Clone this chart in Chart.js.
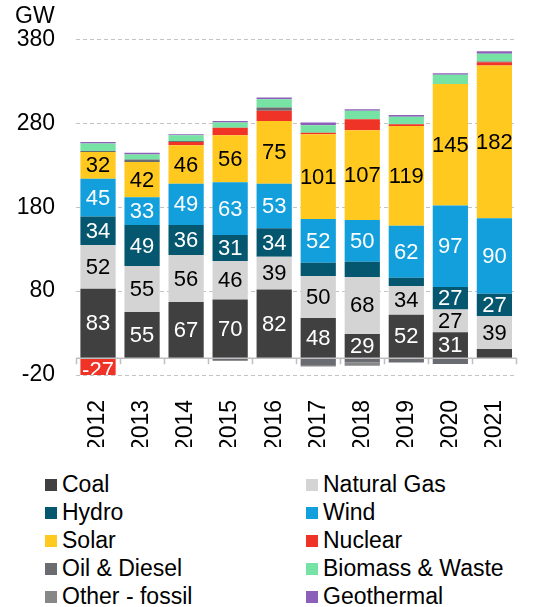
<!DOCTYPE html>
<html>
<head>
<meta charset="utf-8">
<script src="https://cdn.jsdelivr.net/npm/chart.js@4"></script>
<style>
  body { margin: 0; background: #fff; font-family: "Liberation Sans", Arial, sans-serif; }
  #wrap { position: relative; width: 539px; height: 607px; }
  #legend { position: absolute; top: 470px; left: 0; width: 539px; }
  .item { position: absolute; font-size: 23px; line-height: 28px; color: #000; white-space: nowrap; }
  .item span.box { display: inline-block; width: 12px; height: 12px; margin-right: 5px; vertical-align: 1px; }
</style>
</head>
<body>
<div id="wrap">
  <canvas id="myChart" width="539" height="465"></canvas>
  <div id="legend"></div>
</div>
<script>
var years = ["2012", "2013", "2014", "2015", "2016", "2017", "2018", "2019", "2020", "2021"];
var coal = [83, 55, 67, 70, 82, 48, 29, 52, 31, 11];
var naturalGas = [52, 55, 56, 46, 39, 50, 68, 34, 27, 39];
var hydro = [34, 49, 36, 31, 34, 16, 18, 10, 27, 27];
var wind = [45, 33, 49, 63, 53, 52, 50, 62, 97, 90];
var solar = [32, 42, 46, 56, 75, 101, 107, 119, 145, 182];
var nuclear = [-27, -1, 4, 9, 12, 2, 13, 2, -1, 4];
var oilDiesel = [1, 3, 1, -3, 4, -8, -5, -5, -6, 1];
var biomass = [9, 6, 7, 6, 10, 9, 10, 9, 11, 9];
var otherFossil = [0, 0, 0, 0, 0, -2, -4, 0, 0, 0];
var geothermal = [2, 2, 1, 2, 2, 3, 2, 2, 2, 3];
var yTicks = [-20, 80, 180, 280, 380];

var series = [
  { label: "Coal", data: coal, color: "#404040", text: "#fff" },
  { label: "Natural Gas", data: naturalGas, color: "#d4d4d4", text: "#000" },
  { label: "Hydro", data: hydro, color: "#05566f", text: "#fff" },
  { label: "Wind", data: wind, color: "#129fdb", text: "#fff" },
  { label: "Solar", data: solar, color: "#ffc91f", text: "#000" },
  { label: "Nuclear", data: nuclear, color: "#ef3326", text: "#fff" },
  { label: "Oil & Diesel", data: oilDiesel, color: "#6b6c71" },
  { label: "Biomass & Waste", data: biomass, color: "#76e2a3" },
  { label: "Other - fossil", data: otherFossil, color: "#878787" },
  { label: "Geothermal", data: geothermal, color: "#8c5fb8" }
];

var font = "'Liberation Sans', Arial, sans-serif";

// value labels inside the big segments + zero line with category ticks
var extras = {
  id: 'extras',
  afterDatasetsDraw: function(chart) {
    var c = chart.ctx, area = chart.chartArea;
    var y = chart.scales.y;
    var y0 = y.getPixelForValue(0);
    c.save();
    c.strokeStyle = "#bfbfbf";
    c.lineWidth = 1.5;
    c.beginPath();
    c.moveTo(area.left, y0);
    c.lineTo(area.right, y0);
    var step = (area.right - area.left) / years.length;
    for (var i = 0; i <= years.length; i++) {
      var tx = Math.round(area.left + i * step) + 0.5;
      c.moveTo(tx, y0);
      c.lineTo(tx, y0 + 6);
    }
    c.stroke();

    c.beginPath();
    c.rect(area.left, area.top, area.right - area.left, area.bottom - area.top);
    c.clip();
    c.font = "22px " + font;
    c.textAlign = "center";
    c.textBaseline = "middle";
    chart.data.datasets.forEach(function(ds, di) {
      if (!ds.textColor) return;
      var meta = chart.getDatasetMeta(di);
      meta.data.forEach(function(bar, i) {
        var v = ds.data[i];
        if (Math.abs(v) < 20) return;
        c.fillStyle = ds.textColor;
        c.fillText(String(v), bar.x, (bar.y + bar.base) / 2 + 1);
      });
    });
    c.restore();
  }
};

var ctx = document.getElementById("myChart").getContext('2d');
var myChart = new Chart(ctx, {
  type: 'bar',
  data: {
    labels: years,
    datasets: series.map(function(s) {
      return {
        label: s.label,
        data: s.data,
        backgroundColor: s.color,
        textColor: s.text,
        borderWidth: 0,
        barPercentage: 0.8,
        categoryPercentage: 1.0
      };
    })
  },
  plugins: [extras],
  options: {
    responsive: false,
    animation: false,
    layout: { padding: { left: 15, right: 0, top: 0, bottom: 18 } },
    plugins: {
      legend: { display: false },
      tooltip: { enabled: false },
      title: {
        display: true,
        text: "GW",
        align: 'start',
        color: '#000',
        font: { family: font, size: 23, weight: 'normal' },
        padding: { top: 3, bottom: 9 }
      }
    },
    scales: {
      x: {
        stacked: true,
        afterFit: function(scale) { scale.height = 72; },
        grid: { display: false },
        border: { display: false },
        ticks: {
          color: '#000',
          font: { family: font, size: 23 },
          minRotation: 90,
          maxRotation: 90,
          padding: 17
        }
      },
      y: {
        stacked: true,
        min: -20,
        max: 380,
        afterFit: function(scale) { scale.width = 61; },
        afterBuildTicks: function(scale) {
          scale.ticks = yTicks.map(function(v) { return { value: v }; });
        },
        border: { display: false, dash: [4, 3] },
        grid: { color: '#c4c4c4', lineWidth: 1, drawTicks: false },
        ticks: {
          color: '#000',
          font: { family: font, size: 23 },
          padding: 21
        }
      }
    }
  }
});

// legend, two columns
var legend = document.getElementById("legend");
series.forEach(function(s, i) {
  var d = document.createElement("div");
  d.className = "item";
  d.style.left = (i % 2 === 0 ? 45 : 306) + "px";
  d.style.top = (Math.floor(i / 2) * 28) + "px";
  d.innerHTML = '<span class="box" style="background:' + s.color + '"></span>';
  d.appendChild(document.createTextNode(s.label));
  legend.appendChild(d);
});
</script>
</body>
</html>
